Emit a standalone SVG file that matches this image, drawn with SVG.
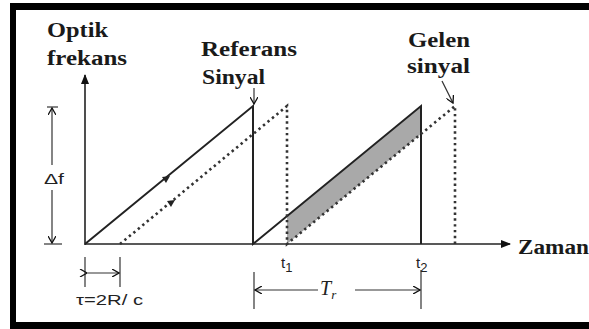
<svg xmlns="http://www.w3.org/2000/svg" width="589" height="329" viewBox="0 0 589 329">
<defs>
<style>
.lbl{font-family:"Liberation Serif","Times New Roman",serif;font-weight:bold;font-size:20px;fill:#1a1a1a}
.sans{font-family:"Liberation Sans",Arial,sans-serif;font-size:15px;fill:#222}
.ital{font-family:"Liberation Serif","Times New Roman",serif;font-style:italic;fill:#222}
.solid{stroke:#222;stroke-width:2;fill:none}
.axis{stroke:#222;stroke-width:1.6;fill:none}
.dot{stroke:#333;stroke-width:2.6;fill:none;stroke-dasharray:2.4 3.4}
.thin{stroke:#333;stroke-width:1.2;fill:none}
</style>
<marker id="ah" markerWidth="10" markerHeight="8" refX="9" refY="4" orient="auto" markerUnits="userSpaceOnUse">
<path d="M0,0 L10,4 L0,8 Z" fill="#111"/>
</marker>
<marker id="ao" markerWidth="8" markerHeight="8" refX="7" refY="4" orient="auto" markerUnits="userSpaceOnUse">
<path d="M0,0 L7,4 L0,8" fill="none" stroke="#111" stroke-width="1.3"/>
</marker>
<marker id="aos" markerWidth="8" markerHeight="8" refX="1" refY="4" orient="auto-start-reverse" markerUnits="userSpaceOnUse">
<path d="M7,0 L0,4 L7,8" fill="none" stroke="#111" stroke-width="1.3"/>
</marker>
</defs>
<rect width="589" height="329" fill="#fff"/>
<g id="frame">
<rect x="10" y="3" width="579" height="7" fill="#000"/>
<rect x="10" y="3" width="6" height="326" fill="#000"/>
<rect x="10" y="322" width="579" height="7" fill="#000"/>
</g>
<g id="shaded-region">
<polygon points="287,244 287,216 421,106 421,134" fill="#a9a9a9"/>
</g>
<g id="connectors">
<line id="y-axis" x1="85" y1="245" x2="85" y2="75" class="axis" marker-end="url(#ah)"/>
<line id="x-axis" x1="85" y1="244" x2="510" y2="244" class="axis" marker-end="url(#ah)"/>
<polyline id="ref-signal" points="85,244 253,106 253,244 421,106 421,244" class="solid"/>
<polyline id="rx-signal" points="120,244 287,106 287,244 455,106 455,244" class="dot"/>
<path d="M162,177 L170,176 L166,183 Z" fill="#222"/>
<path d="M167,201 L175,200 L171,207 Z" fill="#222"/>
<line x1="47" y1="107" x2="58" y2="107" class="thin"/>
<line x1="44" y1="244" x2="62" y2="244" class="thin"/>
<line x1="52" y1="165" x2="52" y2="108" class="thin" marker-end="url(#ao)"/>
<line x1="52" y1="190" x2="52" y2="243" class="thin" marker-end="url(#ao)"/>
<line x1="85" y1="257" x2="85" y2="287" class="thin"/>
<line x1="120" y1="257" x2="120" y2="287" class="thin"/>
<line x1="86" y1="273" x2="119" y2="273" class="thin" marker-start="url(#aos)" marker-end="url(#ao)"/>
<line x1="254" y1="272" x2="254" y2="309" class="thin"/>
<line x1="421" y1="270" x2="421" y2="309" class="thin"/>
<line x1="318" y1="290" x2="255" y2="290" class="thin" marker-end="url(#ao)"/>
<line x1="355" y1="290" x2="420" y2="290" class="thin" marker-end="url(#ao)"/>
<line x1="254" y1="88" x2="254" y2="104" class="thin" marker-end="url(#ao)"/>
<line x1="442" y1="81" x2="453" y2="103" class="thin" marker-end="url(#ao)"/>
</g>
<g id="label-optik">
<text class="lbl" x="47" y="37" textLength="61" lengthAdjust="spacingAndGlyphs">Optik</text>
<text class="lbl" x="47" y="65" textLength="80" lengthAdjust="spacingAndGlyphs">frekans</text>
</g>
<g id="label-referans">
<text class="lbl" x="201" y="56" textLength="96" lengthAdjust="spacingAndGlyphs">Referans</text>
<text class="lbl" x="202" y="84" textLength="63" lengthAdjust="spacingAndGlyphs">Sinyal</text>
</g>
<g id="label-gelen">
<text class="lbl" x="408" y="47" textLength="62" lengthAdjust="spacingAndGlyphs">Gelen</text>
<text class="lbl" x="407" y="73" textLength="63" lengthAdjust="spacingAndGlyphs">sinyal</text>
</g>
<g id="label-zaman">
<text class="lbl" x="518" y="254" textLength="71" lengthAdjust="spacingAndGlyphs">Zaman</text>
</g>
<g id="label-df">
<text class="sans" x="44" y="184" font-size="17" textLength="20" lengthAdjust="spacingAndGlyphs">Δf</text>
</g>
<g id="label-tau">
<text class="sans" x="76" y="305" font-size="16" textLength="67" lengthAdjust="spacingAndGlyphs">τ=2R/ c</text>
</g>
<g id="label-t1">
<text class="sans" x="281" y="268" font-size="17">t<tspan font-size="13" dy="4">1</tspan></text>
</g>
<g id="label-t2">
<text class="sans" x="416" y="268" font-size="17">t<tspan font-size="13" dy="4">2</tspan></text>
</g>
<g id="label-tr">
<text class="ital" x="320" y="295" font-size="20">T<tspan font-size="13" dy="4">r</tspan></text>
</g>
</svg>
